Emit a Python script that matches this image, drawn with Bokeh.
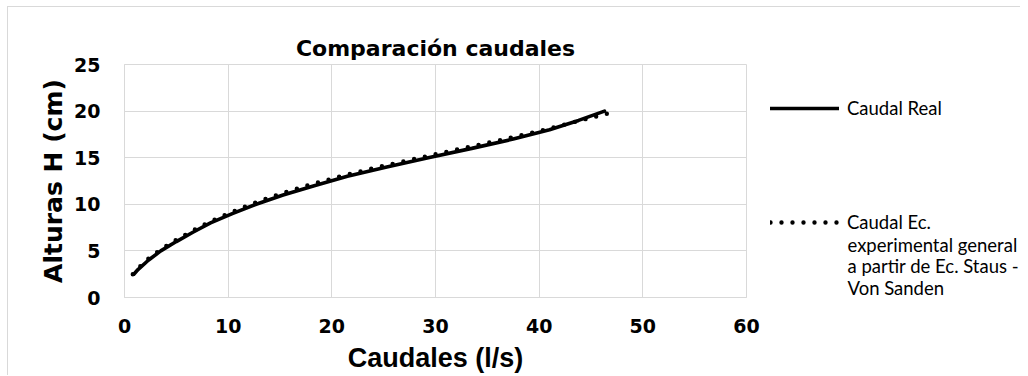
from bokeh.plotting import figure
from bokeh.layouts import row, column
from bokeh.models import Range1d, FixedTicker, Legend, LegendItem, Label
from bokeh.embed import file_html
from bokeh.resources import INLINE

# ---- data ----
alturas_H = [2.5, 3, 4, 5, 6, 7, 8, 9, 10, 11, 12, 13, 14, 15, 16, 17, 18, 19, 20]
caudal_real = [0.9, 1.3, 2.3, 3.5, 5.0, 6.6, 8.3, 10.4, 12.7, 15.3, 18.3, 21.5,
               25.3, 29.3, 33.5, 37.5, 41.0, 43.8, 46.3]
caudal_ec = [0.8, 1.2, 2.1, 3.3, 4.7, 6.3, 8.0, 10.0, 12.2, 14.7, 17.6, 20.8,
             24.5, 28.5, 32.6, 36.7, 40.5, 44.0, 47.5]
x_ticks = [0, 10, 20, 30, 40, 50, 60]
y_ticks = [0, 5, 10, 15, 20, 25]

title_text = "Comparación caudales"
x_label = "Caudales (l/s)"
y_label = "Alturas H (cm)"
serie1 = "Caudal Real"
serie2_lines = ["Caudal Ec.", "experimental general", "a partir de Ec. Staus -", "Von Sanden"]

GRID = "#d9d9d9"
FONT = "DejaVu Sans"
FONT2 = "Liberation Sans"
LEGFONT = "Lato"
LEGSIZE = "18.5px"

H = 368
p = figure(width=752, height=H, output_backend="svg", toolbar_location=None,
           x_range=Range1d(0, 60), y_range=Range1d(0, 25),
           min_border_left=116, min_border_right=14, min_border_top=57,
           min_border_bottom=70)
p.outline_line_color = GRID
p.background_fill_color = "white"
p.border_fill_color = "white"

p.title.text = title_text
p.title.align = "center"
p.title.text_font = FONT
p.title.text_font_style = "bold"
p.title.text_font_size = "22px"
p.title.text_color = "black"
p.title.standoff = 8

for ax in (p.xaxis[0], p.yaxis[0]):
    ax.axis_line_color = GRID
    ax.major_tick_line_color = None
    ax.minor_tick_line_color = None
    ax.major_tick_out = 0
    ax.major_tick_in = 0
    ax.major_label_text_font = FONT
    ax.major_label_text_font_style = "bold"
    ax.major_label_text_font_size = "19px"
    ax.major_label_text_color = "black"
    ax.axis_label_text_font_style = "bold"
    ax.axis_label_text_color = "black"
p.xaxis[0].ticker = FixedTicker(ticks=x_ticks)
p.yaxis[0].ticker = FixedTicker(ticks=y_ticks)
p.xaxis[0].major_label_standoff = 21
p.yaxis[0].major_label_standoff = 24
p.xaxis[0].axis_label = x_label
p.xaxis[0].axis_label_text_font = FONT2
p.xaxis[0].axis_label_text_font_size = "27px"
p.xaxis[0].axis_label_standoff = 7
p.yaxis[0].axis_label = y_label
p.yaxis[0].axis_label_text_font = FONT
p.yaxis[0].axis_label_text_font_size = "25px"
p.yaxis[0].axis_label_standoff = 3
p.xgrid.grid_line_color = GRID
p.ygrid.grid_line_color = GRID
p.xgrid.ticker = FixedTicker(ticks=x_ticks)
p.ygrid.ticker = FixedTicker(ticks=y_ticks)

line1 = dict(line_color="black", line_width=3.6, line_cap="round")
line2 = dict(line_color="black", line_width=4.4, line_dash="0 11", line_cap="round")
p.line(caudal_real, alturas_H, **line1)
p.line(caudal_ec, alturas_H, **line2)

# ---- legend panel (separate figure to the right, frame aligned with the plot) ----
p2 = figure(width=260, height=H, output_backend="svg", toolbar_location=None,
            x_range=Range1d(1000, 1001), y_range=Range1d(1000, 1001),
            x_axis_location=None, y_axis_location=None,
            min_border_left=0, min_border_right=0,
            min_border_top=57, min_border_bottom=70)
p2.outline_line_color = None
p2.grid.visible = False
p2.background_fill_color = "white"
p2.border_fill_color = "white"
lr1 = p2.line(caudal_real, alturas_H, **line1)
lr2 = p2.line(caudal_ec, alturas_H, **line2)

common = dict(padding=0, margin=0, spacing=0, border_line_color=None,
              background_fill_alpha=0, glyph_width=69, glyph_height=24,
              label_height=24, label_standoff=8, label_text_font=LEGFONT,
              label_text_font_size=LEGSIZE, label_text_color="black")
p2.add_layout(Legend(items=[LegendItem(label=serie1, renderers=[lr1])],
                     location=(10, 177), **common), "center")
p2.add_layout(Legend(items=[LegendItem(label=serie2_lines[0], renderers=[lr2])],
                     location=(10, 63), **common), "center")
for i, t in enumerate(serie2_lines[1:]):
    p2.add_layout(Label(x=87, y=53 - 21.5 * i, x_units="screen", y_units="screen", text=t,
                        text_font=LEGFONT, text_font_size=LEGSIZE, text_color="black",
                        text_baseline="middle", text_align="left"))

inner = row(p, p2, spacing=0)
inner.styles = {"border-left": "1px solid #d9d9d9", "border-top": "1px solid #d9d9d9"}
outer = column(inner)
outer.styles = {"padding-left": "7px", "padding-top": "6px"}

open("out.html", "w").write(file_html(outer, INLINE))
